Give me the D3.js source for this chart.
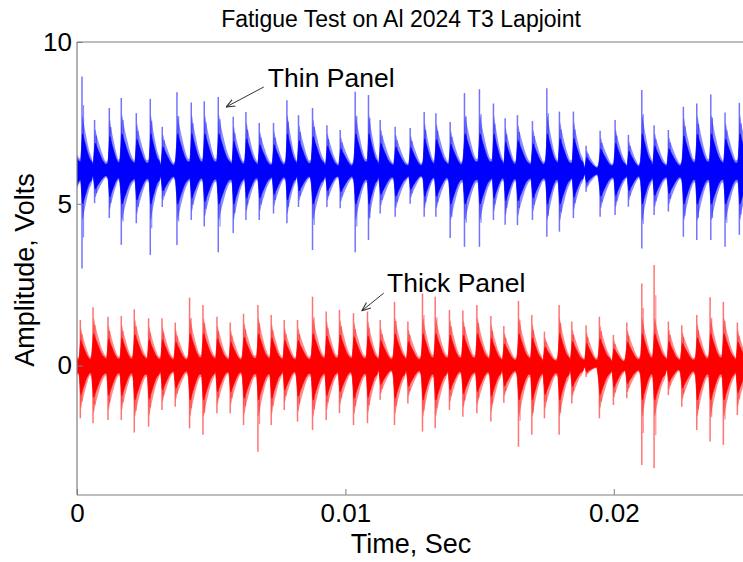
<!DOCTYPE html>
<html><head><meta charset="utf-8">
<script src="https://cdn.jsdelivr.net/npm/d3@7"></script>
<style>
html,body{margin:0;padding:0;background:#fff;}
text{font-family:"Liberation Sans",Arial,sans-serif;fill:#000;}
</style></head>
<body><svg id="chart" width="743" height="562"></svg>
<script>
// ---- data (time in ms, amplitude in volts) ----
const thinTimes = [0.186,0.655,1.203,1.650,2.209,2.730,3.177,3.724,4.257,4.741,5.263,5.821,6.294,6.790,7.322,7.821,8.253,8.775,9.311,9.806,10.365,10.860,11.296,11.855,12.413,12.935,13.371,13.903,14.436,14.994,15.516,15.952,16.410,16.969,17.505,17.974,18.495,18.968,19.490,20.048,20.544,21.043,21.501,22.033,22.592,23.091,23.613,24.145,24.678];
const thinMax = [8.93,7.59,7.96,8.27,7.80,8.24,7.38,8.45,8.13,8.17,8.30,7.69,7.84,7.50,7.50,8.20,7.74,7.96,7.43,7.28,8.46,8.36,7.59,7.38,7.34,7.84,7.80,7.53,8.42,8.54,8.10,7.64,7.74,7.56,8.57,7.85,7.85,6.79,7.26,7.59,7.13,8.52,7.43,7.28,8.00,8.10,8.38,7.82,8.12];
const thinMin = [3.00,5.02,4.56,3.73,4.40,3.42,4.90,3.73,4.50,4.30,3.50,4.10,4.50,4.50,4.70,4.40,4.90,3.57,4.90,4.86,3.50,3.88,4.70,4.60,5.00,4.60,4.60,3.94,3.67,3.67,4.50,4.35,4.34,4.50,3.98,4.14,4.56,5.37,4.60,4.65,4.91,3.62,4.65,4.76,3.98,3.88,3.88,3.67,4.04];
const thickTimes = [0.123,0.596,1.155,1.650,2.134,2.667,3.166,3.661,4.194,4.693,5.214,5.709,6.205,6.741,7.236,7.721,8.216,8.775,9.285,9.780,10.302,10.823,11.296,11.829,12.328,12.872,13.345,13.877,14.376,14.898,15.419,15.903,16.447,16.946,17.415,17.963,18.436,18.968,19.464,19.985,20.484,21.043,21.501,22.033,22.533,23.091,23.587,24.082,24.603];
const thickMax = [1.41,1.80,1.51,1.53,1.74,1.46,1.46,1.33,2.10,1.87,1.51,1.33,1.60,1.87,1.56,1.41,1.41,2.13,1.67,1.72,1.62,1.67,1.41,1.97,1.36,2.23,2.13,1.72,1.70,1.87,1.53,1.22,2.00,1.56,1.05,1.87,1.36,1.25,1.51,0.95,1.33,2.54,3.11,1.36,1.25,1.56,2.11,1.97,1.33];
const thickMin = [-1.63,-1.78,-1.68,-1.68,-2.07,-1.89,-1.37,-1.27,-1.94,-2.14,-1.47,-1.47,-1.84,-2.66,-1.84,-1.37,-1.73,-1.99,-1.68,-1.47,-1.84,-1.78,-1.06,-1.84,-1.17,-2.04,-1.94,-1.37,-1.58,-1.47,-1.73,-1.15,-2.51,-2.14,-1.63,-2.14,-1.17,-0.35,-1.63,-1.22,-1.01,-3.07,-3.17,-0.91,-1.27,-1.99,-2.35,-2.45,-1.53];
const thinBase = 6, thickBase = 0;
const xTicks = [0, 0.01, 0.02];
const yTicks = [0, 5, 10];
const title = "Fatigue Test on Al 2024 T3 Lapjoint";
const xLabel = "Time, Sec", yLabel = "Amplitude, Volts";
const notes = [
  {text:"Thin Panel", tx:7.11, ty:8.62, ax0:6.96, ay0:8.61, ax1:5.55, ay1:7.99},
  {text:"Thick Panel", tx:11.55, ty:2.27, ax0:11.43, ay0:2.24, ax1:10.61, ay1:1.69}
];

// ---- layout ----
const W = 743, H = 562;
const mLeft = 77, mTop = 42, mBottom = 495, mRight = 748;
const svg = d3.select("#chart");
const x = d3.scaleLinear().domain([0, 0.025]).range([mLeft, mRight]);
const y = d3.scaleLinear().domain([-4, 10]).range([mBottom, mTop]);

const defs = svg.append("defs");
defs.append("clipPath").attr("id","clip")
  .append("rect").attr("x",mLeft).attr("y",mTop).attr("width",mRight-mLeft).attr("height",mBottom-mTop);

const plot = svg.append("g").attr("clip-path","url(#clip)");

// envelope shape of one burst: [fraction of interval, fraction of burst amplitude]
const coreShape = [[-0.12,0.14],[-0.02,0.38],[0.05,0.55],[0.15,0.48],[0.35,0.34],[0.58,0.2],[0.78,0.14]];
const fringeShape = [[-0.12,0.18],[-0.02,0.55],[0.05,0.82],[0.15,0.7],[0.35,0.5],[0.58,0.3],[0.78,0.19]];

function envelope(times, maxs, mins, base, shape){
  const capUp = 1.15*d3.median(maxs, v=>v-base), capDn = 1.15*d3.median(mins, v=>base-v);
  const pts = [];
  pts.push({t:0, hi:base+shape[0][1]*(maxs[0]-base), lo:base-shape[0][1]*(base-mins[0])});
  times.forEach((t0,i)=>{
    const tms = t0/1000;
    const P = ((i+1<times.length? times[i+1] : t0+0.5) - t0)/1000;
    const up = Math.min(maxs[i]-base, capUp), dn = Math.min(base-mins[i], capDn);
    shape.forEach(([f,a])=>{
      const t = Math.max(0, tms+f*P);
      pts.push({t, hi:base+a*up, lo:base-a*dn});
    });
  });
  pts.sort((a,b)=>a.t-b.t);
  return pts;
}

function drawSignal(times, maxs, mins, base, color){
  const area = d3.area().x(d=>x(d.t)).y0(d=>y(d.lo)).y1(d=>y(d.hi)).curve(d3.curveMonotoneX);
  plot.append("path").attr("d", area(envelope(times, maxs, mins, base, fringeShape)))
    .attr("fill", color).attr("fill-opacity",0.45);
  plot.append("path").attr("d", area(envelope(times, maxs, mins, base, coreShape)))
    .attr("fill", color).attr("stroke", color).attr("stroke-width",0.6);
  const g = plot.append("g");
  times.forEach((t0,i)=>{
    const tms = t0/1000;
    const P = ((i+1<times.length? times[i+1] : t0+0.5) - t0)/1000;
    const up = maxs[i]-base, dn = base-mins[i];
    g.append("line").attr("x1",x(tms)).attr("x2",x(tms))
      .attr("y1",y(maxs[i])).attr("y2",y(mins[i]))
      .attr("stroke",color).attr("stroke-width",1.5).attr("stroke-opacity",0.55);
    g.append("line").attr("x1",x(tms+0.12*P)).attr("x2",x(tms+0.12*P))
      .attr("y1",y(base+0.7*up)).attr("y2",y(base-0.68*dn))
      .attr("stroke",color).attr("stroke-width",1.2).attr("stroke-opacity",0.45);
  });
}
drawSignal(thinTimes, thinMax, thinMin, thinBase, "#0000ff");
drawSignal(thickTimes, thickMax, thickMin, thickBase, "#ff0000");

// ---- axes frame ----
const axisColor = "#7f7f7f";
svg.append("line").attr("x1",mLeft).attr("x2",W).attr("y1",mTop).attr("y2",mTop).attr("stroke",axisColor).attr("stroke-width",1.2);
svg.append("line").attr("x1",mLeft).attr("x2",W).attr("y1",mBottom).attr("y2",mBottom).attr("stroke",axisColor).attr("stroke-width",1.2);
svg.append("line").attr("x1",mLeft).attr("x2",mLeft).attr("y1",mTop).attr("y2",mBottom).attr("stroke",axisColor).attr("stroke-width",1.2);

const xAxis = d3.axisBottom(x).tickValues(xTicks).tickSizeInner(-6).tickSizeOuter(0)
  .tickPadding(9).tickFormat(d=>d===0?"0":String(d));
const gx = svg.append("g").attr("transform",`translate(0,${mBottom})`).call(xAxis);
gx.select(".domain").remove();
gx.selectAll(".tick line").attr("stroke",axisColor);
gx.selectAll(".tick text").attr("font-size",26).attr("font-family","Liberation Sans, Arial, sans-serif").attr("fill","#000");

const yAxis = d3.axisLeft(y).tickValues(yTicks).tickSizeInner(-6).tickSizeOuter(0).tickPadding(5);
const gy = svg.append("g").attr("transform",`translate(${mLeft},0)`).call(yAxis);
gy.select(".domain").remove();
gy.selectAll(".tick line").attr("stroke",axisColor);
gy.selectAll(".tick text").attr("font-size",26).attr("font-family","Liberation Sans, Arial, sans-serif").attr("fill","#000");

// ---- labels ----
svg.append("text").attr("x",401).attr("y",27).attr("text-anchor","middle").attr("font-size",23).text(title);
svg.append("text").attr("x",411).attr("y",553).attr("text-anchor","middle").attr("font-size",27).text(xLabel);
svg.append("text").attr("transform","translate(34,270) rotate(-90)").attr("text-anchor","middle").attr("font-size",27).text(yLabel);

// ---- annotations ----
defs.append("marker").attr("id","arr").attr("viewBox","0 0 10 10").attr("refX",10).attr("refY",5)
  .attr("markerWidth",9).attr("markerHeight",9).attr("orient","auto").attr("markerUnits","userSpaceOnUse")
  .append("path").attr("d","M0,1 L10,5 L0,9").attr("fill","none").attr("stroke","#333").attr("stroke-width",1.2);
notes.forEach(n=>{
  svg.append("line").attr("x1",x(n.ax0/1000)).attr("y1",y(n.ay0)).attr("x2",x(n.ax1/1000)).attr("y2",y(n.ay1))
    .attr("stroke","#333").attr("stroke-width",1).attr("marker-end","url(#arr)");
  svg.append("text").attr("x",x(n.tx/1000)).attr("y",y(n.ty)).attr("font-size",26.5).text(n.text);
});
</script></body></html>
